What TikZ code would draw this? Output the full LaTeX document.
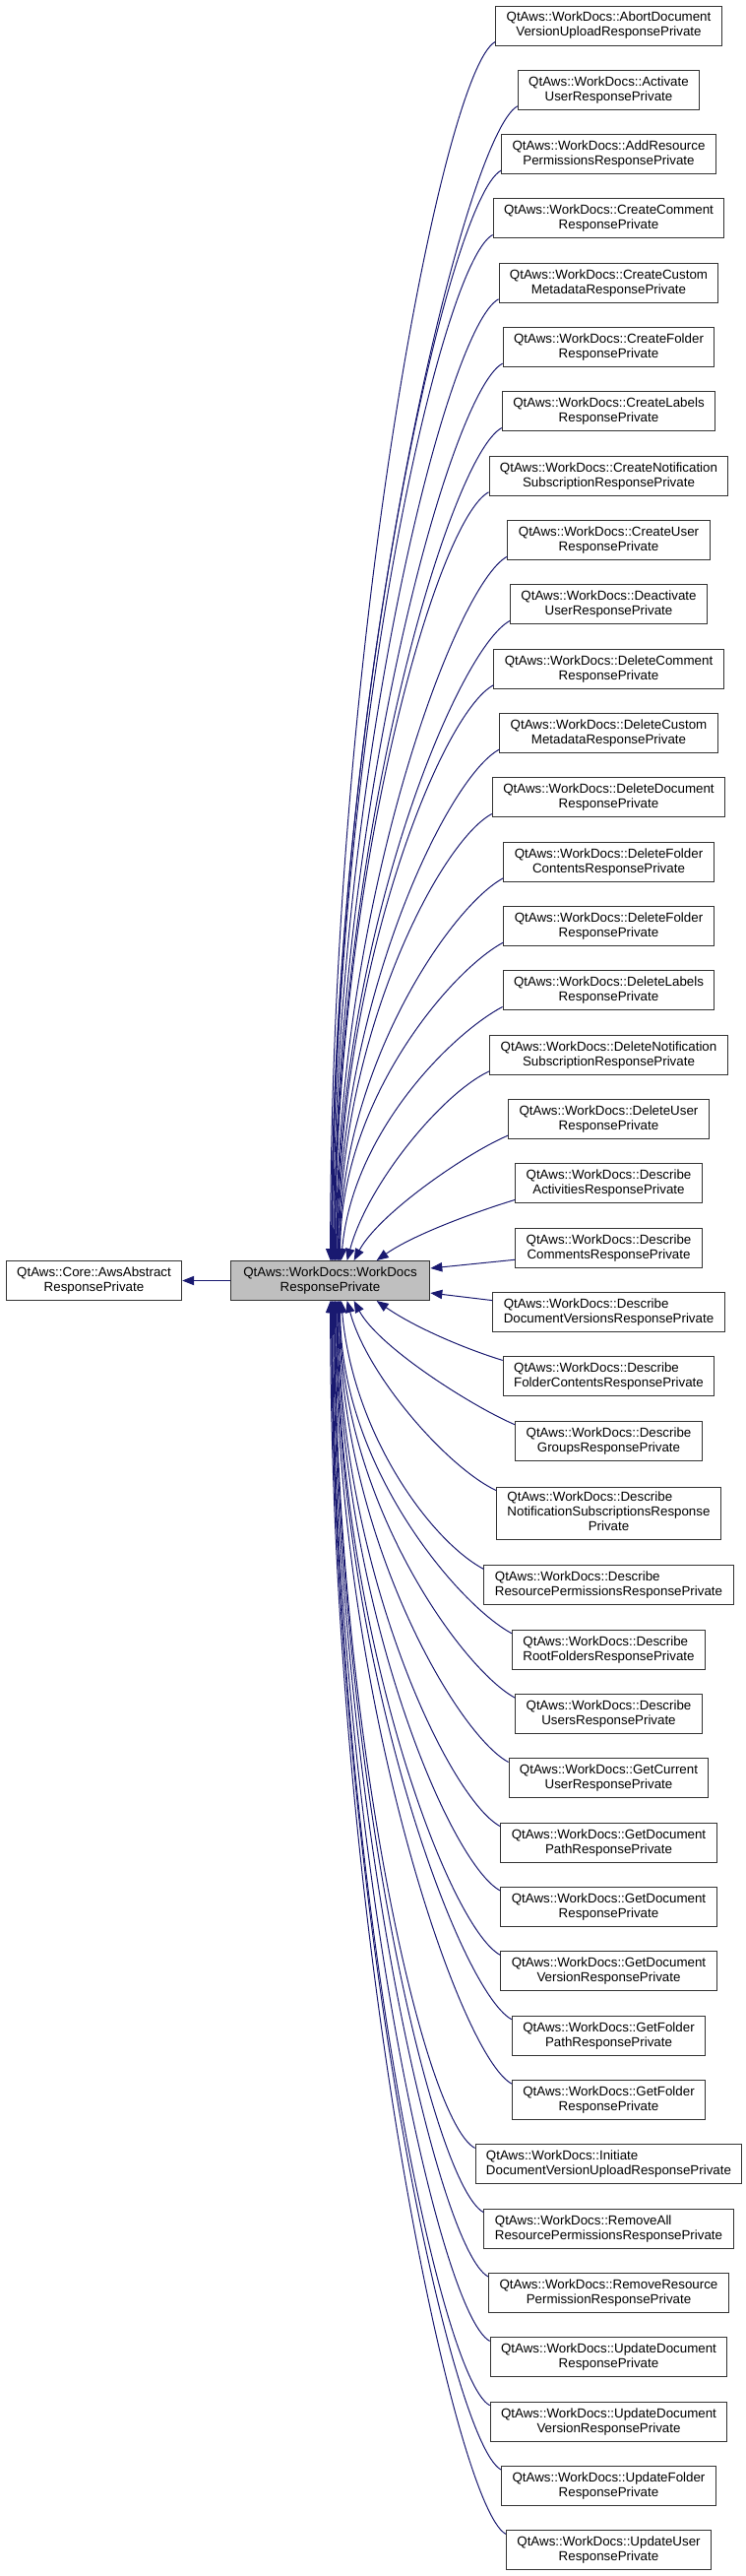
\documentclass[tikz,border=0pt]{standalone}
\usepackage{fontspec}
\setmainfont{Liberation Sans}
\usetikzlibrary{arrows.meta,calc}
\definecolor{edgeblue}{HTML}{191970}
\definecolor{boxgray}{HTML}{BFBFBF}

\begin{document}
\begin{tikzpicture}[x=0.75pt,y=-0.75pt,
    cls/.style={draw=black!80, line width=0.75pt, fill=white, minimum height=30pt,
        inner xsep=8.2pt, inner ysep=3pt, align=center, font=\fontsize{10}{11.25}\selectfont},
    lcls/.style={cls, align=left},
    inh/.style={draw=edgeblue, line width=0.75pt, -{Triangle[length=9pt,width=7pt]}}]
            \useasboundingbox (0,0) rectangle (757,2616);

            \node[cls] (base) at (95.5,1300.5) {QtAws::Core::AwsAbstract\\ResponsePrivate};
            \node[cls, fill=boxgray, minimum width=152pt] (wd) at (335.5,1300.5) {QtAws::WorkDocs::WorkDocs\\ResponsePrivate};

            % derived classes, one row every 65.33 units
            \foreach \i/\na/\nb in {
            1/AbortDocument/VersionUploadResponsePrivate,
            2/Activate/UserResponsePrivate,
            3/AddResource/PermissionsResponsePrivate,
            4/CreateComment/ResponsePrivate,
            5/CreateCustom/MetadataResponsePrivate,
            6/CreateFolder/ResponsePrivate,
            7/CreateLabels/ResponsePrivate,
            8/CreateNotification/SubscriptionResponsePrivate,
            9/CreateUser/ResponsePrivate,
            10/Deactivate/UserResponsePrivate,
            11/DeleteComment/ResponsePrivate,
            12/DeleteCustom/MetadataResponsePrivate,
            13/DeleteDocument/ResponsePrivate,
            14/DeleteFolder/ContentsResponsePrivate,
            15/DeleteFolder/ResponsePrivate,
            16/DeleteLabels/ResponsePrivate,
            17/DeleteNotification/SubscriptionResponsePrivate,
            18/DeleteUser/ResponsePrivate,
            19/Describe/ActivitiesResponsePrivate,
            20/Describe/CommentsResponsePrivate,
            23/Describe/GroupsResponsePrivate,
            27/Describe/UsersResponsePrivate,
            28/GetCurrent/UserResponsePrivate,
            29/GetDocument/PathResponsePrivate,
            30/GetDocument/ResponsePrivate,
            31/GetDocument/VersionResponsePrivate,
            32/GetFolder/PathResponsePrivate,
            33/GetFolder/ResponsePrivate,
            36/RemoveResource/PermissionResponsePrivate,
            37/UpdateDocument/ResponsePrivate,
            38/UpdateDocument/VersionResponsePrivate,
            39/UpdateFolder/ResponsePrivate,
            40/UpdateUser/ResponsePrivate
            }{\node[cls] (c\i) at (618.5,{26+(\i-1)*65.33+16*(\i>24)}) {QtAws::WorkDocs::\na\\\nb};}

            \foreach \i/\na/\nb in {
            21/Describe/DocumentVersionsResponsePrivate,
            22/Describe/FolderContentsResponsePrivate,
            25/Describe/ResourcePermissionsResponsePrivate,
            26/Describe/RootFoldersResponsePrivate,
            34/Initiate/DocumentVersionUploadResponsePrivate,
            35/RemoveAll/ResourcePermissionsResponsePrivate
            }{\node[lcls] (c\i) at (618.5,{26+(\i-1)*65.33+16*(\i>24)}) {QtAws::WorkDocs::\na\\\nb};}

            \node[cls] (c24) at (618.5,1536.5) {\begin{tabular}{@{}l@{}}QtAws::WorkDocs::Describe\\NotificationSubscriptionsResponse\\\multicolumn{1}{@{}c@{}}{Private}\end{tabular}};

            % inheritance arrows
            \draw[inh] (wd) -- (base);

            \foreach \i/\x/\o/\a/\e/\d in {
            1/102/208/90/45pt/465pt,
            2/103/208/90/45pt/440pt,
            3/103.5/208/90/45pt/415pt,
            4/104/208/90/45pt/391pt,
            5/105/208/90/45pt/367pt,
            6/106/208/90/45pt/342pt,
            7/106.5/208/90/45pt/318pt,
            8/107/208/90/45pt/293pt,
            9/108/208/90/45pt/269pt,
            10/108.5/208/90/45pt/244pt,
            11/109.5/208/90/45pt/220pt,
            12/110/208/90/45pt/195pt,
            13/111/208/90/45pt/171pt,
            14/111.5/208/90/45pt/146pt,
            15/112/208/90/45pt/122pt,
            16/113/208/85/45pt/97pt,
            17/119/205/75/40pt/60pt,
            18/126/203/62/35pt/40pt,
            19/149/197/35/30pt/35pt
            }{\draw[inh] ([yshift=3pt]c\i.south west) to[out=\o, in=\a, out distance=\e, in distance=\d] ($(wd.north west)+(\x,0)$);}

            \draw[inh] ([yshift=-9pt]c20.west) -- ([yshift=9.4pt]wd.east);
            \draw[inh] ([yshift=9pt]c21.west) -- ([yshift=-9.4pt]wd.east);

            \foreach \i/\x/\o/\a/\e/\d in {
            22/149/163/-35/30pt/35pt,
            23/126/157/-62/35pt/40pt,
            24/119/155/-75/40pt/60pt,
            25/113/152/-85/45pt/103pt,
            26/112/152/-90/45pt/127pt,
            27/111.5/152/-90/45pt/152pt,
            28/111/152/-90/45pt/176pt,
            29/110/152/-90/45pt/201pt,
            30/109.5/152/-90/45pt/225pt,
            31/108.5/152/-90/45pt/250pt,
            32/108/152/-90/45pt/274pt,
            33/107/152/-90/45pt/299pt,
            34/106.5/152/-90/45pt/323pt,
            35/106/152/-90/45pt/348pt,
            36/105/152/-90/45pt/372pt,
            37/104/152/-90/45pt/397pt,
            38/103.5/152/-90/45pt/421pt,
            39/103/152/-90/45pt/446pt,
            40/102/152/-90/45pt/470pt
            }{\draw[inh] ([yshift=-3pt]c\i.north west) to[out=\o, in=\a, out distance=\e, in distance=\d] ($(wd.south west)+(\x,0)$);}
\end{tikzpicture}
\end{document}
